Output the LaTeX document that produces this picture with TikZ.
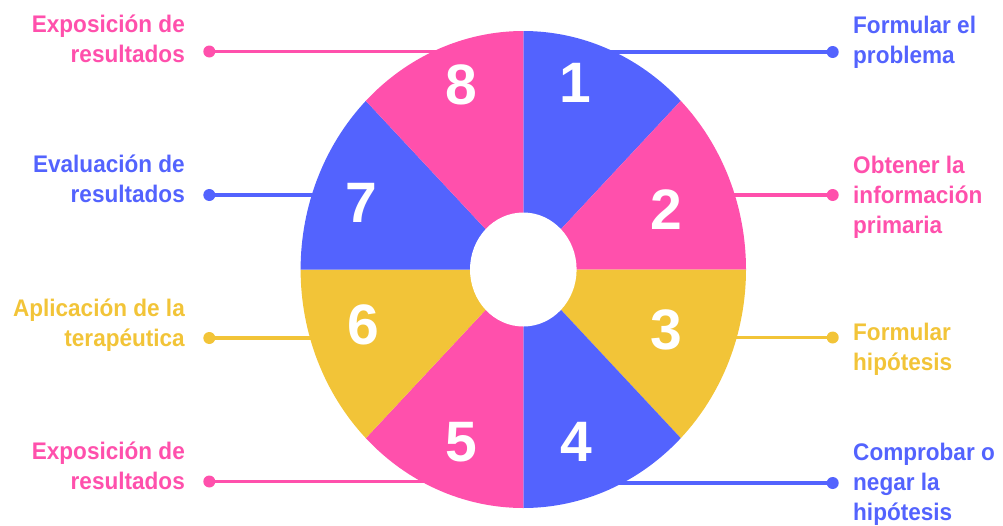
\documentclass[tikz,border=0pt]{standalone}
\usepackage{fontspec}
\setmainfont{Liberation Sans}[FakeStretch=0.94]
\newfontfamily\digitfont{Liberation Sans}
\definecolor{cblue}{RGB}{83,99,254}
\definecolor{cpink}{RGB}{255,80,172}
\definecolor{cyellow}{RGB}{242,196,56}
\begin{document}
\begin{tikzpicture}[x=1pt,y=1pt,
  lbl/.style={inner sep=0pt,font=\bfseries\fontsize{24}{30}\selectfont},
  rlbl/.style={lbl,anchor=base west,align=left},
  llbl/.style={lbl,anchor=base east,align=right},
  dot/.style={circle,fill=#1,inner sep=0pt,minimum size=12pt},
  conn/.style={draw=#1,line width=3.2pt},
  num/.style={text=white,font=\digitfont\bfseries\fontsize{57}{57}\selectfont,inner sep=0pt}]
\useasboundingbox (0,0) rectangle (1003,-525);
\coordinate (c) at (523.3,-269.5);
% connectors (behind the wheel)
\coordinate (w1) at (560,-52);
\coordinate (w2) at (700,-195);
\coordinate (w3) at (700,-337.5);
\coordinate (w4) at (560,-483);
\coordinate (w5) at (490,-481.5);
\coordinate (w6) at (340,-338);
\coordinate (w7) at (340,-195);
\coordinate (w8) at (490,-51.5);
\node[dot=cblue] (d1) at (832.7,-52) {};
\node[dot=cpink] (d2) at (832.7,-195) {};
\node[dot=cyellow] (d3) at (832.7,-337.5) {};
\node[dot=cblue] (d4) at (832.7,-483) {};
\node[dot=cpink] (d5) at (209.3,-481.5) {};
\node[dot=cyellow] (d6) at (209.3,-338) {};
\node[dot=cblue] (d7) at (209.3,-195) {};
\node[dot=cpink] (d8) at (209.3,-51.5) {};
\draw[conn=cblue] (w1) -- (d1.center);
\draw[conn=cpink] (w2) -- (d2.center);
\draw[conn=cyellow] (w3) -- (d3.center);
\draw[conn=cblue] (w4) -- (d4.center);
\draw[conn=cpink] (w5) -- (d5.center);
\draw[conn=cyellow] (w6) -- (d6.center);
\draw[conn=cblue] (w7) -- (d7.center);
\draw[conn=cpink] (w8) -- (d8.center);
% wheel
\foreach \a/\col in {45/cblue,0/cpink,-45/cyellow,-90/cblue,-135/cpink,180/cyellow,135/cblue,90/cpink}{
  \fill[\col] (c) -- ++(\a:222.7 and 238.5) arc[start angle=\a, delta angle=45, x radius=222.7, y radius=238.5] -- cycle;
}
\fill[white] (c) ellipse[x radius=53.3, y radius=57];
% numbers
\node[num] (n1) at (575,-83) {1};
\node[num] (n2) at (666.7,-210) {2};
\node[num] (n3) at (666.7,-330) {3};
\node[num] (n4) at (576.7,-441.7) {4};
\node[num] (n5) at (461.7,-441.7) {5};
\node[num] (n6) at (363,-325) {6};
\node[num] (n7) at (361.7,-203) {7};
\node[num] (n8) at (461.7,-85) {8};
% labels (base = baseline of last line)
\node[rlbl,text=cblue] (l1) at (853,-63.3) {Formular el\\problema};
\node[rlbl,text=cpink] (l2) at (853,-233) {Obtener la\\información\\primaria};
\node[rlbl,text=cyellow] (l3) at (853,-370.5) {Formular\\hipótesis};
\node[rlbl,text=cblue] (l4) at (853,-520.5) {Comprobar o\\negar la\\hipótesis};
\node[llbl,text=cpink] (l5) at (185,-489.3) {Exposición de\\resultados};
\node[llbl,text=cyellow] (l6) at (185,-346) {Aplicación de la\\terapéutica};
\node[llbl,text=cblue] (l7) at (185,-202.7) {Evaluación de\\resultados};
\node[llbl,text=cpink] (l8) at (185,-62.7) {Exposición de\\resultados};
\end{tikzpicture}
\end{document}
